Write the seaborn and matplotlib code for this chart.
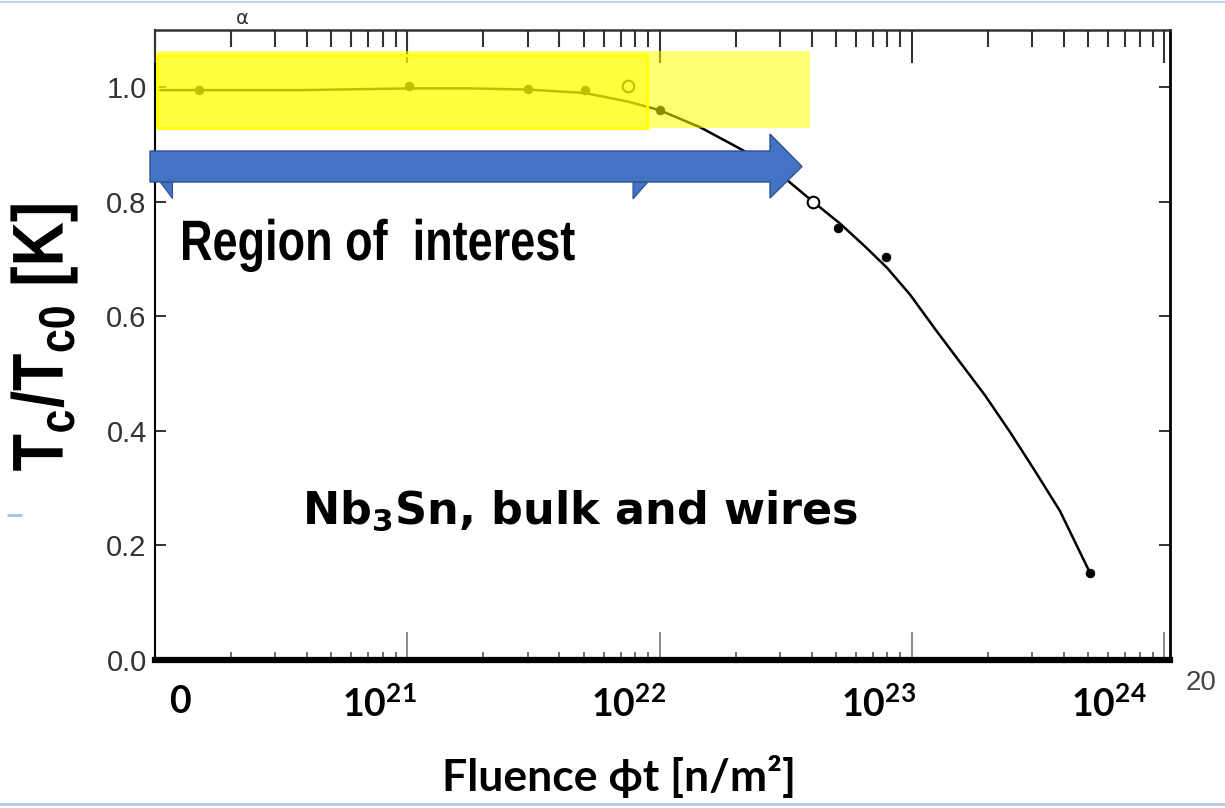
"""Tc/Tc0 of Nb3Sn versus neutron fluence, with the slide overlays."""
import matplotlib
matplotlib.use("Agg")
import matplotlib.pyplot as plt
from matplotlib import font_manager
from matplotlib.font_manager import FontProperties
from matplotlib.lines import Line2D
from matplotlib.patches import PathPatch, Polygon, Rectangle
from matplotlib.textpath import TextPath
from matplotlib.transforms import Affine2D, ScaledTranslation
import seaborn as sns


# values (fluence in n/m^2)
filled_fluence = [1.5e20, 1.02e21, 3.0e21, 5.06e21, 1.0e22, 5.1e22, 7.9e22, 5.08e23]
filled_ratio = [0.995, 1.003, 0.997, 0.995, 0.96, 0.755, 0.703, 0.152]
open_fluence = [7.5e21, 4.06e22]
open_ratio = [1.003, 0.80]

curve_fluence = [1.05e20, 3.76e20, 1.02e21, 1.77e21, 3.0e21, 5.06e21, 7.5e21, 1.0e22,
                 1.45e22, 2.14e22, 3.2e22, 4.06e22, 5.19e22, 6.52e22, 7.96e22, 9.83e22,
                 1.235e23, 1.551e23, 1.949e23, 2.448e23, 3.075e23, 3.864e23, 5.08e23]
curve_ratio = [0.995, 0.995, 0.998, 0.998, 0.996, 0.99, 0.975, 0.96, 0.93, 0.89,
               0.838, 0.80, 0.762, 0.722, 0.685, 0.638, 0.578, 0.52, 0.462, 0.398,
               0.33, 0.26, 0.152]

x_ticks = [1e20, 1e21, 1e22, 1e23, 1e24]
x_labels = ["0", r"$\mathbf{10^{21}}$", r"$\mathbf{10^{22}}$",
            r"$\mathbf{10^{23}}$", r"$\mathbf{10^{24}}$"]
x_label_shift = [25, -28, -31, -33, -55]   # pixels, labels sit left of the decades
y_ticks = [0.0, 0.2, 0.4, 0.6, 0.8, 1.0]

W, H = 1225, 808


def fx(px):
    return px / W


def fy(py):
    return 1 - py / H


installed = {f.name for f in font_manager.fontManager.ttflist}
CALIB = "Lato" if "Lato" in installed else "DejaVu Sans"

sns.set_style("white")
plt.rcParams["text.color"] = "black"
plt.rcParams["mathtext.fontset"] = "custom"
plt.rcParams["mathtext.bf"] = f"{CALIB}:bold"
plt.rcParams["mathtext.rm"] = f"{CALIB}:bold"
plt.rcParams["mathtext.sf"] = "Liberation Sans:bold"

fig = plt.figure(figsize=(W / 100, H / 100), dpi=100)


def narrow_text(s, x, y, em, squeeze, rotation=0, center=False):
    """Bold Liberation Sans squeezed sideways, placed in figure pixels."""
    path = TextPath((0, 0), s, size=em,
                    prop=FontProperties(family="Liberation Sans", weight="bold"))
    tr = Affine2D()
    if center:
        bb = path.get_extents()
        tr.translate(-(bb.x0 + bb.x1) / 2, -(bb.y0 + bb.y1) / 2)
    tr.scale(squeeze, 1).rotate_deg(rotation).translate(x, H - y).scale(1 / 100)
    fig.add_artist(PathPatch(path, transform=tr + fig.dpi_scale_trans,
                             facecolor="black", edgecolor="none", zorder=3))


ax = fig.add_axes([fx(155), 1 - 660 / H, 1015 / W, 630 / H])
ax.set_xscale("log")

sns.lineplot(x=curve_fluence, y=curve_ratio, ax=ax, color="black", lw=1.8, zorder=3)
sns.scatterplot(x=filled_fluence, y=filled_ratio, ax=ax, color="black",
                edgecolor="black", s=40, zorder=4)
sns.scatterplot(x=open_fluence, y=open_ratio, ax=ax, color="white",
                edgecolor="black", linewidth=1.5, s=70, zorder=4)

ax.set_xlim(1e20, 1.054e24)
ax.set_ylim(0, 1.1)
ax.set_xlabel("")
ax.set_ylabel("")

for side, lw, col in [("left", 1.5, "black"), ("right", 2.0, "black"),
                      ("top", 1.8, "#333333"), ("bottom", 4.5, "black")]:
    ax.spines[side].set_visible(True)
    ax.spines[side].set_linewidth(lw)
    ax.spines[side].set_color(col)
ax.spines["bottom"].set_capstyle("projecting")

ax.set_yticks(y_ticks, [f"{v:.1f}" for v in y_ticks])
ax.tick_params(axis="y", which="major", direction="in", left=True, right=True,
               length=8, width=1.3, color="#222222", pad=6,
               labelsize=21, labelcolor="#333333")
for lab in ax.get_yticklabels():
    lab.set_fontfamily("Liberation Sans")

ax.set_xticks(x_ticks, x_labels)
ax.xaxis.set_minor_formatter(plt.NullFormatter())
ax.tick_params(axis="x", which="major", direction="in", bottom=True, top=False,
               length=20, width=1.2, color="#777777", pad=18, labelsize=27,
               labelcolor="black")
ax.tick_params(axis="x", which="minor", direction="in", bottom=True, top=False,
               length=6, width=1.2, color="#555555")
for lab, dx in zip(ax.get_xticklabels(), x_label_shift):
    lab.set_fontfamily(CALIB)
    lab.set_fontweight("bold")
    lab.set_transform(lab.get_transform() + ScaledTranslation(dx / 100, 0, fig.dpi_scale_trans))

# scanned top axis with its log tick marks
ax2 = ax.twiny()
ax2.set_xscale("log")
ax2.set_xlim(ax.get_xlim())
ax2.tick_params(axis="x", which="major", direction="in", length=24, width=1.5,
                color="#333333", labeltop=False)
ax2.tick_params(axis="x", which="minor", direction="in", length=12, width=1.5,
                color="#333333", labeltop=False)
for s in ax2.spines.values():
    s.set_visible(False)

# yellow highlight boxes
fig.add_artist(Rectangle((fx(157), fy(128)), (810 - 157) / W, 77 / H,
                         transform=fig.transFigure, facecolor=(1, 1, 0, 0.55),
                         edgecolor="none", zorder=1))
fig.add_artist(Rectangle((fx(157), fy(128)), (647 - 157) / W, 73 / H,
                         transform=fig.transFigure, facecolor=(1, 1, 0, 0.45),
                         edgecolor=(1, 1, 0, 1), lw=2, zorder=1))

# blue arrow with the hidden one peeking out
for tri in [[(160, 182), (172, 182), (172, 198)], [(633, 182), (648, 182), (633, 199)]]:
    fig.add_artist(Polygon([(fx(a), fy(b)) for a, b in tri], closed=True,
                           transform=fig.transFigure, facecolor="#4472C4",
                           edgecolor="#2F528F", lw=0.8, zorder=2))
arrow = [(150, 151), (770, 151), (770, 134), (802, 166.5), (770, 198), (770, 182), (150, 182)]
fig.add_artist(Polygon([(fx(a), fy(b)) for a, b in arrow], closed=True,
                       transform=fig.transFigure, facecolor="#4472C4",
                       edgecolor="#2F528F", lw=1.0, zorder=2))

narrow_text("Region of  interest", 180, 260, em=57, squeeze=0.79)
narrow_text(r"$\mathsf{T_c/T_{c0}}$ [K]", 44, 338, em=72, squeeze=0.85,
            rotation=90, center=True)
fig.text(fx(302), fy(524), r"Nb$_\mathbf{3}$Sn, bulk and wires", fontfamily="DejaVu Sans",
         fontweight="bold", fontsize=32, va="baseline", math_fontfamily="dejavusans")
fig.text(fx(619), fy(776), "Fluence ϕt [n/m²]", ha="center", va="center",
         fontfamily=[CALIB, "DejaVu Sans"], fontweight="bold", fontsize=32)

# scan leftovers and slide borders
fig.text(fx(1186), fy(683), "20", fontfamily="Liberation Sans", fontsize=20,
         color="#444444", va="center")
fig.text(fx(236), fy(18), "α", fontfamily="DejaVu Sans", fontsize=14,
         color="#333333", va="center")
fig.add_artist(Line2D([0, 1], [fy(1.5)] * 2, color="#BDD7EE", lw=1.5,
                      transform=fig.transFigure))
fig.add_artist(Line2D([0, 1], [fy(804)] * 2, color="#B4C7E7", lw=2,
                      transform=fig.transFigure))
fig.add_artist(Line2D([fx(8), fx(21)], [fy(515)] * 2, color="#9DC3E6", lw=2,
                      transform=fig.transFigure))

fig.savefig("out.png", dpi=100)
